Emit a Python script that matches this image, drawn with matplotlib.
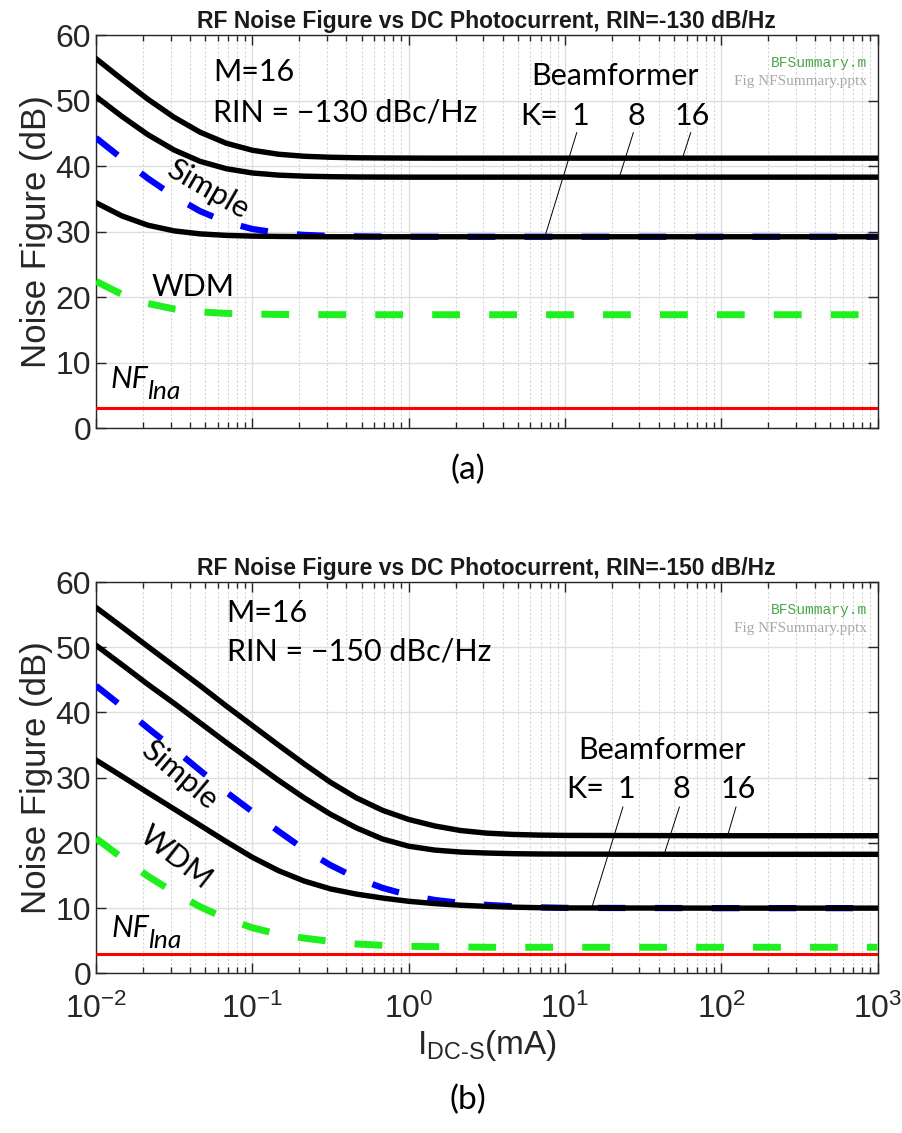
import matplotlib
matplotlib.use('Agg')
import matplotlib.pyplot as plt
from matplotlib.ticker import LogLocator, NullFormatter

# Photocurrent sample points (mA)
i_dc = [0.01, 0.0147, 0.0215, 0.0316, 0.0464, 0.0681, 0.1, 0.147, 0.215, 0.316,
        0.464, 0.681, 1, 1.47, 2.15, 3.16, 4.64, 6.81, 10, 100, 1000]

# (a) RIN = -130 dB/Hz
a_k16 = [56.4, 53.22, 50.19, 47.44, 45.16, 43.48, 42.41, 41.80, 41.49, 41.34,
         41.26, 41.23, 41.21, 41.2, 41.2, 41.2, 41.2, 41.2, 41.2, 41.2, 41.2]
a_k8 = [50.6, 47.55, 44.78, 42.45, 40.71, 39.59, 38.94, 38.61, 38.45, 38.37,
        38.33, 38.31, 38.30, 38.3, 38.3, 38.3, 38.3, 38.3, 38.3, 38.3, 38.3]
a_k1 = [34.4, 32.37, 30.96, 30.10, 29.64, 29.41, 29.30, 29.25, 29.22, 29.2,
        29.2, 29.2, 29.2, 29.2, 29.2, 29.2, 29.2, 29.2, 29.2, 29.2, 29.2]
a_simple = [44.3, 41.12, 38.10, 35.37, 33.10, 31.44, 30.39, 29.79, 29.48, 29.33,
            29.26, 29.23, 29.21, 29.2, 29.2, 29.2, 29.2, 29.2, 29.2, 29.2, 29.2]
a_wdm = [22.4, 20.39, 19.01, 18.18, 17.73, 17.50, 17.40, 17.34, 17.32, 17.31,
         17.3, 17.3, 17.3, 17.3, 17.3, 17.3, 17.3, 17.3, 17.3, 17.3, 17.3]

# (b) RIN = -150 dB/Hz
b_k16 = [56.1, 53.1, 50.1, 47.1, 44.1, 41.0, 38.0, 35.0, 32.1, 29.3,
         26.9, 25.0, 23.6, 22.6, 21.9, 21.5, 21.3, 21.2, 21.15, 21.1, 21.1]
b_k8 = [50.3, 47.3, 44.3, 41.4, 38.4, 35.4, 32.5, 29.6, 26.9, 24.4,
        22.3, 20.6, 19.5, 18.9, 18.6, 18.45, 18.35, 18.3, 18.28, 18.25, 18.25]
b_k1 = [32.7, 30.2, 27.7, 25.2, 22.7, 20.2, 17.8, 15.75, 14.15, 12.95,
        12.15, 11.55, 11.05, 10.7, 10.45, 10.27, 10.15, 10.07, 10.03, 10.0, 10.0]
b_simple = [44.1, 40.9, 37.6, 34.4, 31.1, 27.8, 24.8, 21.8, 19.0, 16.6,
            14.6, 13.1, 12.0, 11.25, 10.8, 10.5, 10.28, 10.12, 10.04, 10.0, 10.0]
b_wdm = [20.7, 17.7, 14.9, 12.4, 10.2, 8.4, 7.0, 6.0, 5.4, 4.9,
         4.5, 4.3, 4.15, 4.1, 4.05, 4.0, 4.0, 4.0, 4.0, 4.0, 4.0]

nf_lna = 3.0
k_labels = ['1', '8', '16']

plt.rcParams['font.family'] = 'Liberation Sans'
plt.rcParams['mathtext.fontset'] = 'custom'
plt.rcParams['mathtext.rm'] = 'Liberation Sans'
plt.rcParams['mathtext.it'] = 'Lato:italic'
plt.rcParams['mathtext.bf'] = 'Liberation Sans:bold'
plt.rcParams['lines.scale_dashes'] = False

ANNOT = 'Lato'
GRAY = '#262626'

fig = plt.figure(figsize=(9.03, 11.33), dpi=100)
ax_a = fig.add_axes([0.1063, 0.6222, 0.8655, 0.3469])
ax_b = fig.add_axes([0.1063, 0.1409, 0.8655, 0.3454])


def setup_axes(ax, title, show_xlabels):
    ax.set_xscale('log')
    ax.set_xlim(1e-2, 1e3)
    ax.set_ylim(0, 60)
    ax.set_yticks([0, 10, 20, 30, 40, 50, 60])
    ax.xaxis.set_major_locator(LogLocator(base=10, numticks=10))
    ax.xaxis.set_minor_locator(LogLocator(base=10, subs=range(2, 10), numticks=20))
    ax.xaxis.set_minor_formatter(NullFormatter())
    ax.grid(True, which='major', color='#dedede', linewidth=1.0, zorder=0)
    ax.grid(True, which='minor', axis='x', color='#d4d4d4', linewidth=0.8,
            linestyle=(0, (1.5, 1.5)), zorder=0)
    ax.tick_params(which='both', direction='in', top=True, right=True,
                   colors=GRAY, labelsize=23, width=1.0)
    ax.tick_params(which='major', length=7)
    ax.tick_params(which='minor', length=4)
    ax.tick_params(axis='x', pad=15)
    for s in ax.spines.values():
        s.set_color(GRAY)
        s.set_linewidth(1.0)
    ax.set_title(title, fontsize=16.5, fontweight='bold', color='#1a1a1a', pad=5)
    ax.set_ylabel('Noise Figure (dB)', fontsize=25, color=GRAY, labelpad=2)
    if not show_xlabels:
        ax.tick_params(axis='x', labelbottom=False)
    ax.text(0.9866, 0.929, 'BFSummary.m', transform=ax.transAxes, ha='right',
            va='center', family='Liberation Mono', fontsize=10.5, color='#4aa84a')
    ax.text(0.9866, 0.882, 'Fig NFSummary.pptx', transform=ax.transAxes, ha='right',
            va='center', family='Liberation Serif', fontsize=11, color='#a8a8a8')


def draw_curves(ax, k16, k8, k1, simple, wdm):
    ax.plot(i_dc, simple, color='#0000ff', linewidth=4.5, dashes=(20, 21), zorder=3)
    ax.plot(i_dc, wdm, color='#1ef01e', linewidth=5.0, dashes=(20, 21), zorder=3)
    ax.plot(i_dc, k16, color='black', linewidth=3.9, zorder=4)
    ax.plot(i_dc, k8, color='black', linewidth=3.9, zorder=4)
    ax.plot(i_dc, k1, color='black', linewidth=3.9, zorder=4)
    ax.axhline(nf_lna, color='#ff0000', linewidth=2.2, zorder=3)


def nf_label(ax, x, y):
    ax.text(x, y, 'NF', family=ANNOT, style='italic', fontsize=22,
            ha='left', va='baseline')
    ax.annotate('lna', xy=(x, y), xytext=(26.5, -8), textcoords='offset points',
                family=ANNOT, style='italic', fontsize=19, ha='left', va='baseline')


# ---- panel (a)
setup_axes(ax_a, 'RF Noise Figure vs DC Photocurrent, RIN=-130 dB/Hz', False)
draw_curves(ax_a, a_k16, a_k8, a_k1, a_simple, a_wdm)
ax_a.text(0.056, 54.4, 'M=16', family=ANNOT, fontsize=22, va='center')
ax_a.text(0.056, 48.1, 'RIN = \u2212130 dBc/Hz', family=ANNOT, fontsize=22, va='center')
ax_a.text(20.9, 53.8, 'Beamformer', family=ANNOT, fontsize=22, ha='center', va='center')
ax_a.text(6.82, 47.7, 'K=', family=ANNOT, fontsize=22, ha='center', va='center')
for xk, lab in zip([12.5, 28.5, 65.0], k_labels):
    ax_a.text(xk, 47.7, lab, family=ANNOT, fontsize=22, ha='center', va='center')
ax_a.plot([11.9, 7.53], [45.1, 29.6], color='black', linewidth=0.7, zorder=5)
ax_a.plot([27.4, 22.5], [45.1, 38.6], color='black', linewidth=0.7, zorder=5)
ax_a.plot([63.8, 57.2], [45.1, 41.6], color='black', linewidth=0.7, zorder=5)
ax_a.text(0.0521, 36.4, 'Simple', family=ANNOT, fontsize=22, ha='center',
          va='center', rotation=-30, zorder=6)
ax_a.text(0.0417, 21.5, 'WDM', family=ANNOT, fontsize=22, ha='center', va='center')
nf_label(ax_a, 0.0123, 6.1)
fig.text(0.518, 0.585, '(a)', family=ANNOT, fontsize=24, ha='center', va='center')

# ---- panel (b)
setup_axes(ax_b, 'RF Noise Figure vs DC Photocurrent, RIN=-150 dB/Hz', True)
draw_curves(ax_b, b_k16, b_k8, b_k1, b_simple, b_wdm)
ax_b.text(0.0686, 55.2, 'M=16', family=ANNOT, fontsize=22, va='center')
ax_b.text(0.0686, 49.3, 'RIN = \u2212150 dBc/Hz', family=ANNOT, fontsize=22, va='center')
ax_b.text(41.8, 34.3, 'Beamformer', family=ANNOT, fontsize=22, ha='center', va='center')
ax_b.text(13.4, 28.2, 'K=', family=ANNOT, fontsize=22, ha='center', va='center')
for xk, lab in zip([24.6, 55.3, 128.0], k_labels):
    ax_b.text(xk, 28.2, lab, family=ANNOT, fontsize=22, ha='center', va='center')
ax_b.plot([23.5, 15.0], [25.5, 10.4], color='black', linewidth=0.7, zorder=5)
ax_b.plot([54.0, 43.6], [25.5, 18.6], color='black', linewidth=0.7, zorder=5)
ax_b.plot([124.3, 111.0], [25.5, 21.5], color='black', linewidth=0.7, zorder=5)
ax_b.text(0.034, 30.4, 'Simple', family=ANNOT, fontsize=22, ha='center',
          va='center', rotation=-40, zorder=6)
ax_b.text(0.0325, 17.8, 'WDM', family=ANNOT, fontsize=22, ha='center',
          va='center', rotation=-38, zorder=6)
nf_label(ax_b, 0.0125, 5.6)
ax_b.set_xlabel(r'I$_{\mathregular{DC\text{-}S}}$(mA)', fontsize=24, color=GRAY, labelpad=2)
fig.text(0.518, 0.029, '(b)', family=ANNOT, fontsize=24, ha='center', va='center')

fig.savefig('out.png', dpi=100)
